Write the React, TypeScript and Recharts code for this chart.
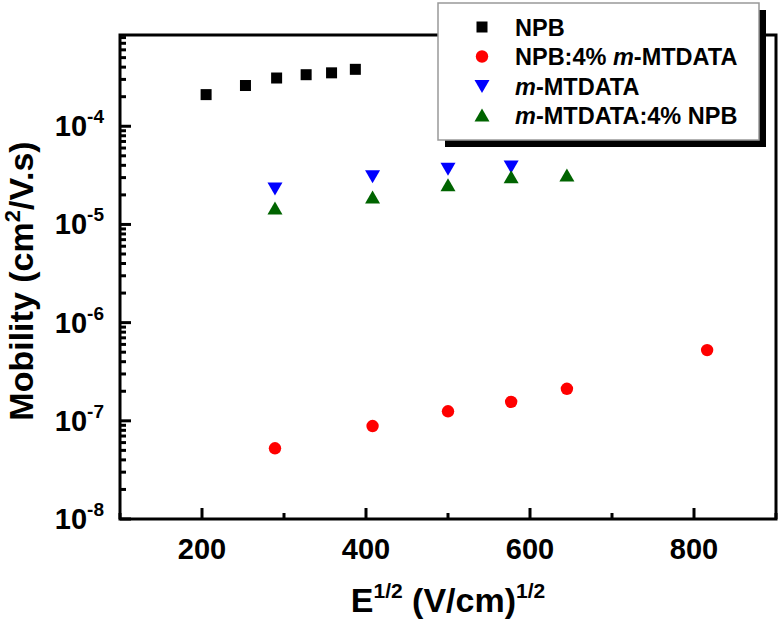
import { ScatterChart, Scatter, XAxis, YAxis, ReferenceArea } from 'recharts'

// E^1/2 (V/cm)^1/2 and mobility (cm2/V.s)
const npbX = [205, 253, 291, 327, 358, 387]
const npbY = [2.1e-4, 2.6e-4, 3.1e-4, 3.35e-4, 3.5e-4, 3.8e-4]

const npbDopedX = [289, 408, 500, 577, 645, 816]
const npbDopedY = [5.25e-8, 8.85e-8, 1.25e-7, 1.56e-7, 2.12e-7, 5.25e-7]

const mtdataX = [289, 408, 500, 577]
const mtdataY = [2.32e-5, 3.1e-5, 3.7e-5, 3.9e-5]

const mtdataDopedX = [289, 408, 500, 577, 645]
const mtdataDopedY = [1.45e-5, 1.88e-5, 2.5e-5, 3.02e-5, 3.15e-5]

const xTicks = [100, 200, 300, 400, 500, 600, 700, 800, 900]
const xMajor = [200, 400, 600, 800]
const yMajor = [1e-8, 1e-7, 1e-6, 1e-5, 1e-4]
const yMinorSteps = [2, 3, 4, 5, 6, 7, 8, 9]

// major + minor ticks for the log axis, inside the 1e-8 .. 8.5e-4 range
const yTicks: number[] = []
yMajor.forEach((m) => {
  yTicks.push(m)
  yMinorSteps.forEach((k) => {
    if (k * m < 8.5e-4) yTicks.push(k * m)
  })
})

const toPoints = (xs: number[], ys: number[]) => xs.map((x, i) => ({ x, y: ys[i] }))

const FONT = '"Liberation Sans", Arial, sans-serif'

const Square = (p: any) => <rect x={p.cx - 5.5} y={p.cy - 5.5} width={11} height={11} fill="#000" />
const Dot = (p: any) => <circle cx={p.cx} cy={p.cy} r={6.2} fill="#ff0000" />
const TriDown = (p: any) => (
  <polygon points={`${p.cx - 7.5},${p.cy - 6} ${p.cx + 7.5},${p.cy - 6} ${p.cx},${p.cy + 7}`} fill="#0000ff" />
)
const TriUp = (p: any) => (
  <polygon points={`${p.cx - 7.5},${p.cy + 6} ${p.cx + 7.5},${p.cy + 6} ${p.cx},${p.cy - 7}`} fill="#006400" />
)

const XTick = (p: any) => {
  const v = p.payload.value
  const major = xMajor.includes(v)
  return (
    <g>
      <line x1={p.x} y1={p.y} x2={p.x} y2={p.y - (major ? 11 : 6)} stroke="#000" strokeWidth={3} />
      {major && (
        <text x={p.x} y={p.y + 40} textAnchor="middle" fontFamily={FONT} fontWeight="bold" fontSize={29} fill="#000">
          {v}
        </text>
      )}
    </g>
  )
}

const YTick = (p: any) => {
  const v = p.payload.value
  const e = Math.round(Math.log10(v))
  const major = Math.abs(v - Math.pow(10, e)) < Math.pow(10, e) * 1e-6
  return (
    <g>
      <line x1={p.x} y1={p.y} x2={p.x + (major ? 11 : 6)} y2={p.y} stroke="#000" strokeWidth={3} />
      {major && (
        <text x={p.x - 16} y={p.y + 10} textAnchor="end" fontFamily={FONT} fontWeight="bold" fontSize={29} fill="#000">
          10
          <tspan dy={-13} fontSize={19}>{e}</tspan>
        </text>
      )}
    </g>
  )
}

const YTitle = (p: any) => {
  const vb = p.viewBox
  const cx = 33
  const cy = vb.y + vb.height / 2 + 4
  return (
    <text x={cx} y={cy} transform={`rotate(-90 ${cx} ${cy})`} textAnchor="middle" fontFamily={FONT} fontWeight="bold" fontSize={34} fill="#000">
      Mobility (cm<tspan dy={-13} fontSize={22}>2</tspan><tspan dy={13}>/V.s)</tspan>
    </text>
  )
}

const XTitle = (p: any) => {
  const vb = p.viewBox
  const cx = vb.x + vb.width / 2
  return (
    <text x={cx} y={612} textAnchor="middle" fontFamily={FONT} fontWeight="bold" fontSize={34} fill="#000">
      E<tspan dy={-14} fontSize={21}>1/2</tspan><tspan dy={14}> (V/cm)</tspan><tspan dy={-14} fontSize={21}>1/2</tspan>
    </text>
  )
}

const legendItems = [
  { label: <tspan>NPB</tspan>, icon: 'sq' },
  { label: <tspan>NPB:4% <tspan fontStyle="italic">m</tspan>-MTDATA</tspan>, icon: 'ci' },
  { label: <tspan><tspan fontStyle="italic">m</tspan>-MTDATA</tspan>, icon: 'td' },
  { label: <tspan><tspan fontStyle="italic">m</tspan>-MTDATA:4% NPB</tspan>, icon: 'tu' },
]

const LegendBox = () => (
  <svg width={332} height={148} style={{ position: 'absolute', left: 437, top: 2 }}>
    <rect x={8} y={8} width={321} height={137} fill="#000" />
    <rect x={1} y={1} width={321} height={137} fill="#fff" stroke="#999" strokeWidth={1.5} />
    {legendItems.map((it, i) => {
      const y = 25 + i * 29.5
      const cx = 45
      let icon
      if (it.icon === 'sq') icon = <Square cx={cx} cy={y} />
      else if (it.icon === 'ci') icon = <Dot cx={cx} cy={y} />
      else if (it.icon === 'td') icon = <TriDown cx={cx} cy={y} />
      else icon = <TriUp cx={cx} cy={y} />
      return (
        <g key={i}>
          {icon}
          <text x={78} y={y + 8.5} fontFamily={FONT} fontWeight="bold" fontSize={23.5} fill="#000">
            {it.label}
          </text>
        </g>
      )
    })}
  </svg>
)

export default function App() {
  return (
    <div style={{ position: 'absolute', left: 0, top: 0, width: 784, height: 628, background: '#fff' }}>
      <ScatterChart width={784} height={628} margin={{ top: 35, right: 8, bottom: 0, left: 0 }}>
        <XAxis
          type="number"
          dataKey="x"
          domain={[100, 900]}
          ticks={xTicks}
          interval={0}
          tickLine={false}
          tickSize={0}
          tickMargin={0}
          axisLine={false}
          tick={<XTick />}
          height={109}
          label={<XTitle />}
        />
        <YAxis
          type="number"
          dataKey="y"
          scale="log"
          domain={[1e-8, 8.5e-4]}
          ticks={yTicks}
          interval={0}
          tickLine={false}
          tickSize={0}
          tickMargin={0}
          axisLine={false}
          tick={<YTick />}
          width={120}
          allowDataOverflow
          label={<YTitle />}
        />
        <ReferenceArea x1={100} x2={900} y1={1e-8} y2={8.5e-4} fill="none" stroke="#000" strokeWidth={3} ifOverflow="visible" />
        <Scatter name="NPB" data={toPoints(npbX, npbY)} shape={Square} isAnimationActive={false} />
        <Scatter name="NPB:4% m-MTDATA" data={toPoints(npbDopedX, npbDopedY)} shape={Dot} isAnimationActive={false} />
        <Scatter name="m-MTDATA" data={toPoints(mtdataX, mtdataY)} shape={TriDown} isAnimationActive={false} />
        <Scatter name="m-MTDATA:4% NPB" data={toPoints(mtdataDopedX, mtdataDopedY)} shape={TriUp} isAnimationActive={false} />
      </ScatterChart>
      <LegendBox />
    </div>
  )
}
